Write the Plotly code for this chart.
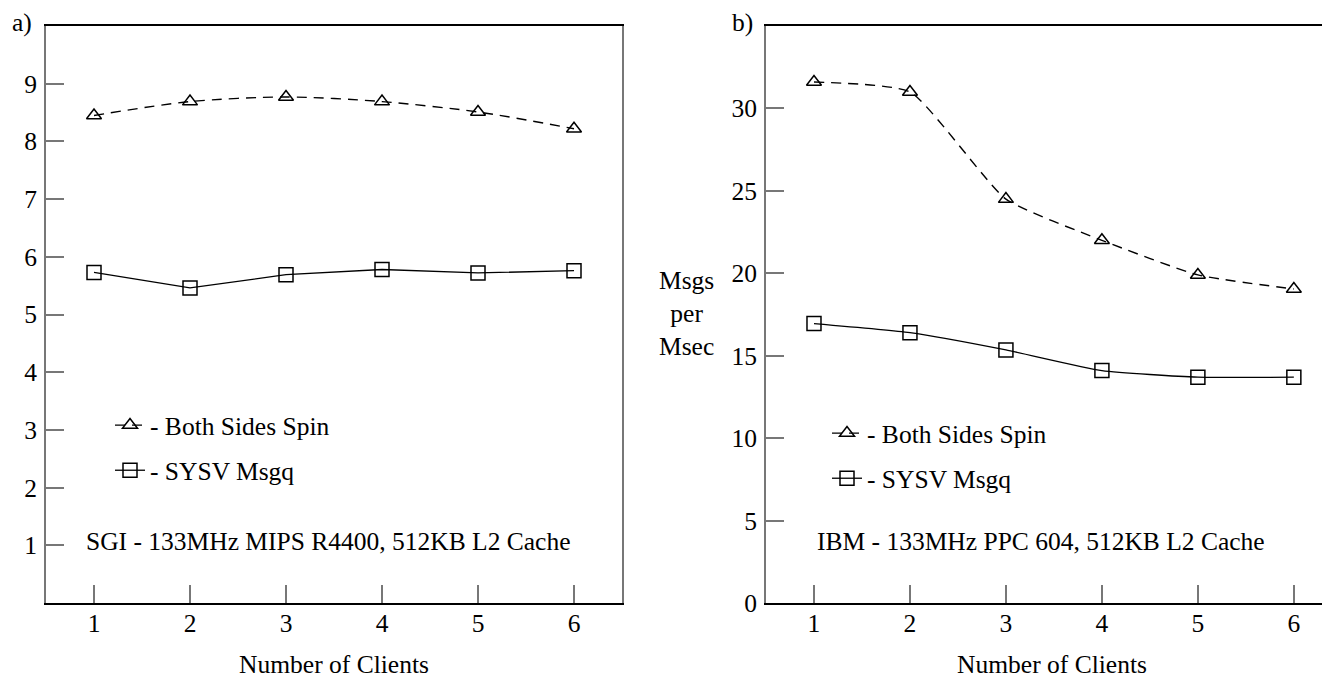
import plotly.graph_objects as go

clients = [1, 2, 3, 4, 5, 6]
sgi_spin = [8.45, 8.69, 8.77, 8.69, 8.51, 8.22]
sgi_msgq = [5.73, 5.46, 5.69, 5.78, 5.72, 5.76]
ibm_spin = [31.6, 31.0, 24.5, 22.0, 19.9, 19.05]
ibm_msgq = [16.95, 16.4, 15.35, 14.1, 13.7, 13.7]
sgi_yticks = [1, 2, 3, 4, 5, 6, 7, 8, 9]
ibm_yticks = [0, 5, 10, 15, 20, 25, 30]
spin_name = "- Both Sides Spin"
msgq_name = "- SYSV Msgq"

FONT = "Liberation Serif"
FS = 25.5
W, H = 1330, 690
OFF = 8  # page body margin
TOP, BOT = 26, 603  # screen pixels of plot area
PH = BOT - TOP


def py(s):
    return (BOT - s) / PH


def px(s):
    return (s - OFF) / W


fig = go.Figure()


def add_pair(spin, msgq, xa, ya, leg, spin_smooth, msgq_shape):
    fig.add_trace(go.Scatter(
        x=clients, y=spin, name=spin_name, xaxis=xa, yaxis=ya, legend=leg,
        legendgroup=leg + "a", mode="lines+markers",
        line=dict(color="black", width=1.4, dash="10px,7px", shape="spline", smoothing=spin_smooth),
        marker=dict(symbol="triangle-up-open", size=13, color="black", line=dict(width=1.5)),
    ))
    fig.add_trace(go.Scatter(
        x=clients, y=msgq, name=msgq_name, xaxis=xa, yaxis=ya, legend=leg,
        legendgroup=leg + "b", mode="lines+markers",
        line=dict(color="black", width=1.3, shape=msgq_shape, smoothing=0.5),
        marker=dict(symbol="square-open", size=14, color="black", line=dict(width=1.5)),
    ))


add_pair(sgi_spin, sgi_msgq, "x", "y", "legend", 0.8, "linear")
add_pair(ibm_spin, ibm_msgq, "x2", "y2", "legend2", 0.5, "spline")

xcommon = dict(
    tickmode="array", tickvals=clients, ticks="inside", ticklen=18, tickwidth=2,
    tickcolor="#777", showline=True, linecolor="black", linewidth=2, mirror=True,
    showgrid=False, zeroline=False, range=[0.5, 6.5], ticklabelstandoff=-4,
    tickfont=dict(family=FONT, size=FS, color="black"),
    title=dict(text="Number of Clients", font=dict(family=FONT, size=FS, color="black"), standoff=19),
)
ycommon = dict(
    tickmode="array", ticks="inside", ticklen=18, tickwidth=2, tickcolor="#777",
    showline=True, linecolor="#777", linewidth=2, showgrid=False, zeroline=False,
    tickfont=dict(family=FONT, size=FS, color="black"), ticklabelstandoff=2,
)

fig.update_layout(
    width=W, height=H, plot_bgcolor="white", paper_bgcolor="white",
    margin=dict(l=0, r=0, t=TOP - OFF, b=H - (BOT - OFF), autoexpand=False),
    font=dict(family=FONT, size=FS, color="black"),
    xaxis=dict(domain=[px(46), px(622)], anchor="y", **xcommon),
    yaxis=dict(domain=[0, 1], anchor="x", range=[0, 10], tickvals=sgi_yticks, mirror=True, **ycommon),
    xaxis2=dict(domain=[px(766), 1.0], anchor="y2", **{**xcommon, "range": [0.5, 6.46]}),
    yaxis2=dict(domain=[0, 1], anchor="x2", range=[0, 35], tickvals=ibm_yticks, **ycommon),
    legend=dict(x=px(110), y=py(402), xref="paper", yref="paper", xanchor="left", yanchor="top",
                bgcolor="rgba(0,0,0,0)", itemwidth=30, tracegroupgap=9,
                font=dict(family=FONT, size=FS, color="black")),
    legend2=dict(x=px(827), y=py(410), xref="paper", yref="paper", xanchor="left", yanchor="top",
                 bgcolor="rgba(0,0,0,0)", itemwidth=30, tracegroupgap=9,
                 font=dict(family=FONT, size=FS, color="black")),
    showlegend=True,
)

fig.add_annotation(text="a)", xref="paper", yref="paper", x=px(22), y=py(22),
                   showarrow=False, xanchor="center", yanchor="middle", font=dict(size=FS))
fig.add_annotation(text="b)", xref="paper", yref="paper", x=px(742), y=py(22),
                   showarrow=False, xanchor="center", yanchor="middle", font=dict(size=FS))
fig.add_annotation(text="SGI - 133MHz MIPS R4400, 512KB L2 Cache", xref="paper", yref="paper",
                   x=px(328), y=py(541), showarrow=False, xanchor="center", yanchor="middle")
fig.add_annotation(text="IBM - 133MHz PPC 604, 512KB L2 Cache", xref="paper", yref="paper",
                   x=px(1041), y=py(541), showarrow=False, xanchor="center", yanchor="middle")
fig.add_annotation(text="Msgs<br>per<br>Msec", xref="paper", yref="paper",
                   x=px(686), y=py(313), showarrow=False, xanchor="center", yanchor="middle",
                   align="center")

fig.write_html("out.html")
